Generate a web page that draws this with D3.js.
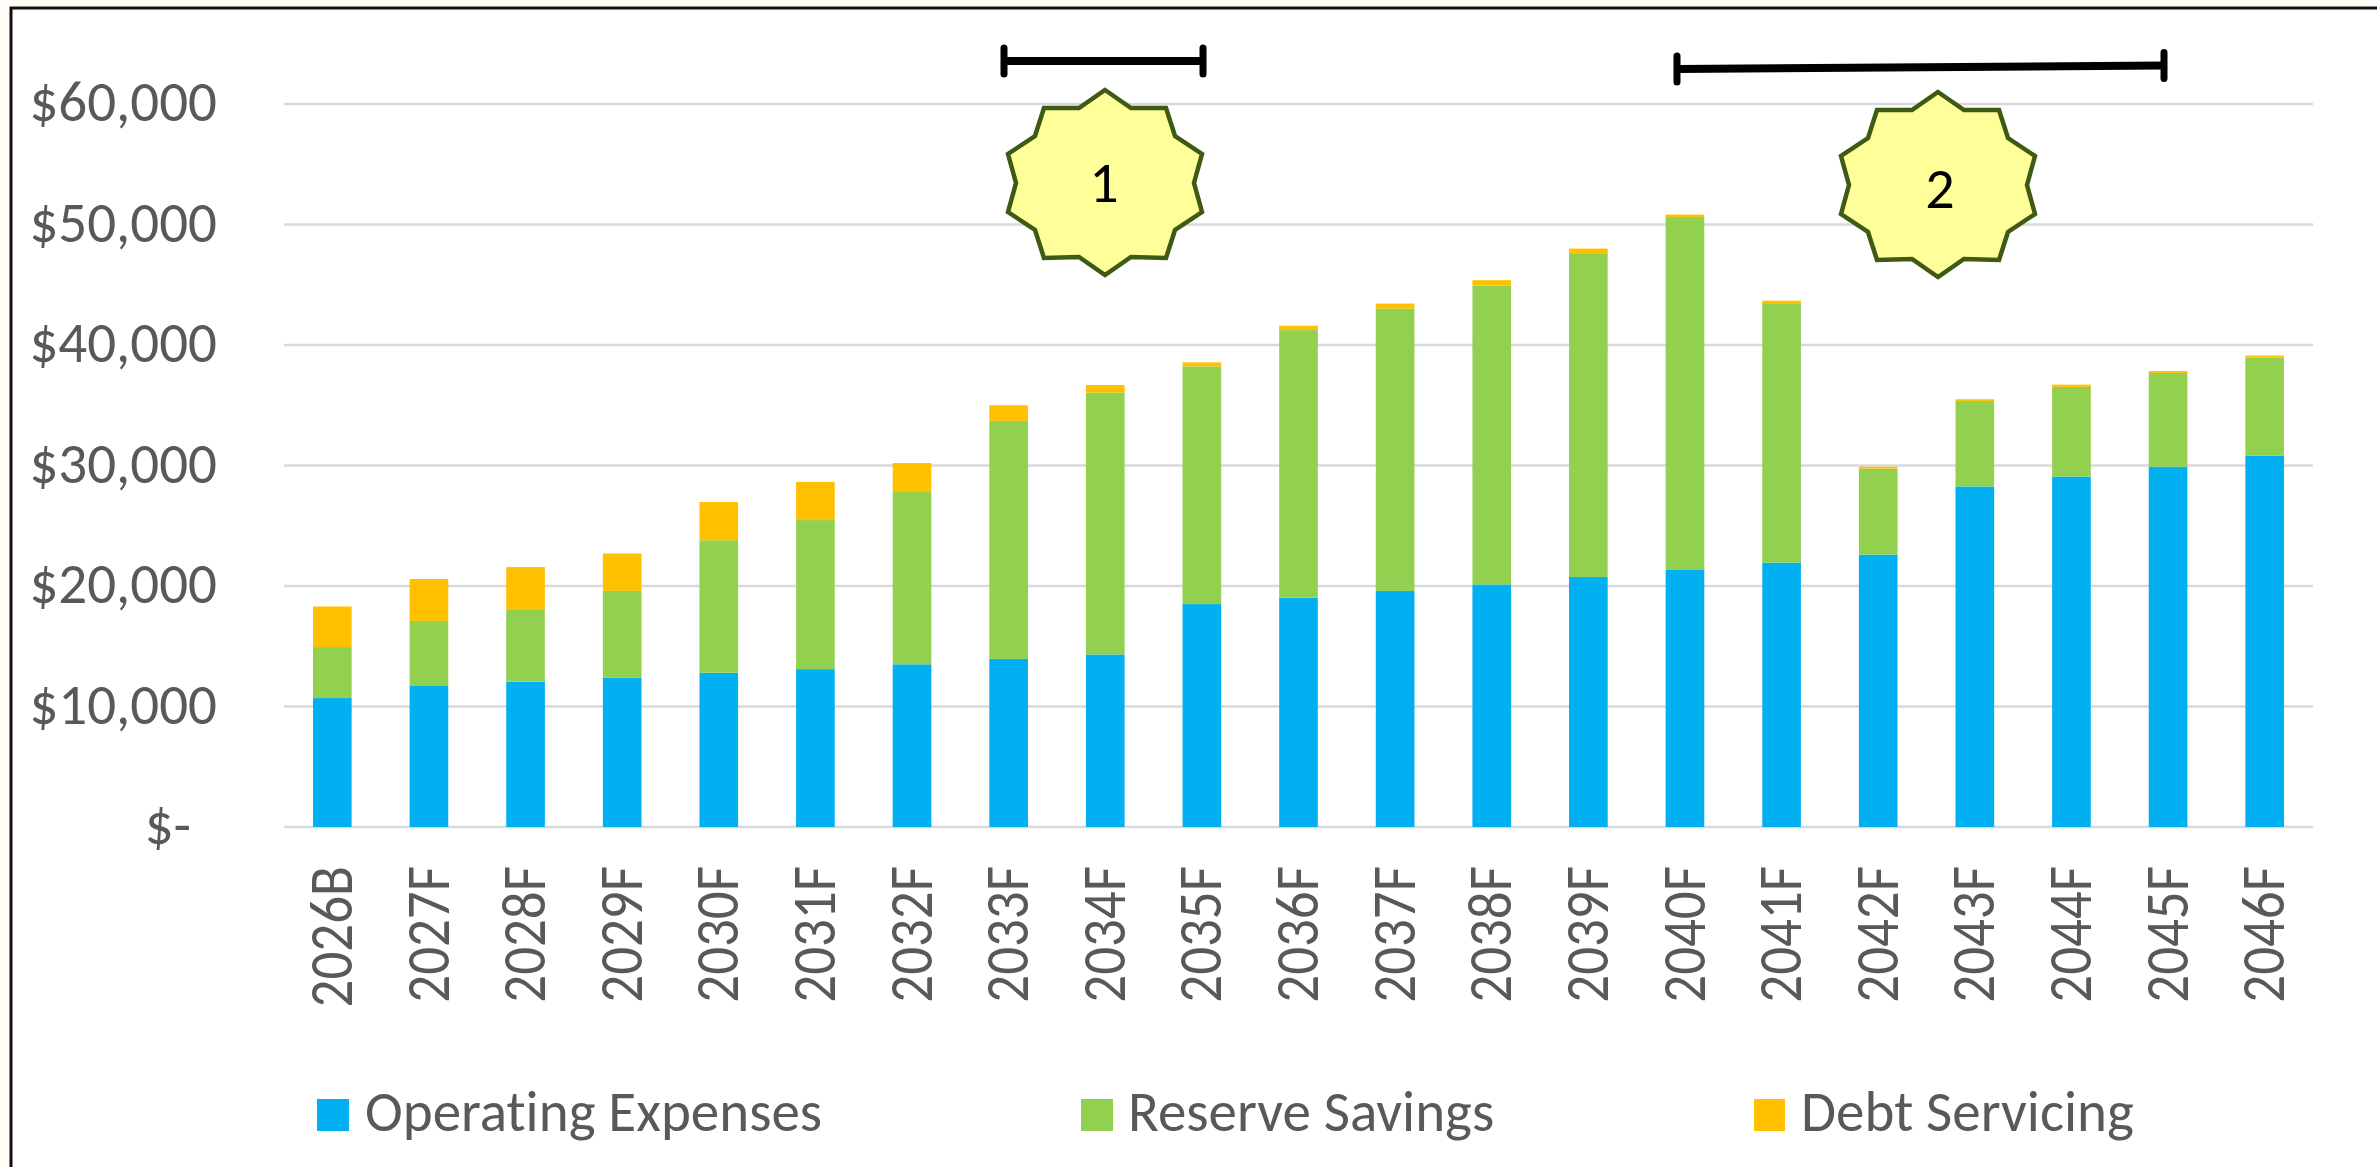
<!DOCTYPE html>
<html><head><meta charset="utf-8">
<style>html,body{margin:0;padding:0;background:#fffdf6;overflow:hidden}svg{display:block}text{font-variant-ligatures:none}</style>
<script src="https://cdnjs.cloudflare.com/ajax/libs/d3/7.9.0/d3.min.js"></script></head>
<body><svg id="c" width="2377" height="1167"></svg>
<script>
const categories=["2026B","2027F","2028F","2029F","2030F","2031F","2032F","2033F","2034F","2035F","2036F","2037F","2038F","2039F","2040F","2041F","2042F","2043F","2044F","2045F","2046F"];
const operating=[10700,11700,12060,12400,12800,13100,13500,13950,14320,18500,19030,19590,20130,20750,21330,21940,22600,28260,29080,29900,30820];
const reserve=[4230,5400,5950,7200,11000,12370,14300,19750,21730,19730,22210,23430,24800,26870,29290,21460,7140,7090,7440,7780,8140];
const debt=[3370,3480,3560,3100,3170,3170,2400,1300,630,330,360,420,450,380,200,280,160,150,190,160,160];
const seriesNames=["Operating Expenses","Reserve Savings","Debt Servicing"];
const colors=["#00b0f0","#92d050","#ffc000"];
const yTicks=[0,10000,20000,30000,40000,50000,60000];
const brackets=[{from:[1004,61],to:[1203,61]},{from:[1677,69],to:[2164,65.5]}];
const badges=[{cx:1105,cy:183,label:"1",ty:202,tx:1104},{cx:1938,cy:185,label:"2",ty:208,tx:1940}];
const font="Calibri,Carlito,'Open Sans','Noto Sans',sans-serif";
const svg=d3.select("#c");
svg.append("rect").attr("x",11).attr("y",8).attr("width",2420).attr("height",1220).attr("fill","#fff").attr("stroke","#111").attr("stroke-width",3);
const x=d3.scaleBand().domain(categories).range([284,2313]).paddingInner(0.6).paddingOuter(0.3);
const y=d3.scaleLinear().domain([0,60000]).range([827,104]);
const g=svg.append("g");
g.selectAll("line.g").data(yTicks).join("line").attr("x1",284).attr("x2",2313).attr("y1",d=>y(d)).attr("y2",d=>y(d)).attr("stroke","#d9d9d9").attr("stroke-width",2.5);
const rows=categories.map((c,i)=>({c,a:operating[i],b:reserve[i],d:debt[i]}));
const stack=d3.stack().keys(["a","b","d"])(rows);
stack.forEach((s,k)=>{g.selectAll(null).data(s).join("rect").attr("x",d=>x(d.data.c)).attr("width",x.bandwidth()).attr("y",d=>y(d[1])).attr("height",d=>y(d[0])-y(d[1])).attr("fill",colors[k]);});
const yFmt=d=>d===0?"$-":"$"+d3.format(",")(d);
g.selectAll("text.y").data(yTicks).join("text").attr("x",d=>d===0?191:217).attr("y",d=>y(d)+17).attr("text-anchor","end").attr("font-family",font).attr("font-size",57).attr("fill","#595959").text(yFmt);
g.selectAll("text.x").data(categories).join("text").attr("transform",d=>`translate(${x(d)+x.bandwidth()/2},866) rotate(-90) scale(1,1.12)`).attr("y",17.5).attr("text-anchor","end").attr("font-family",font).attr("font-size",55).attr("fill","#595959").text(d=>d);
const lx=[317,1081,1754];
const ltx=[365,1128,1801];
seriesNames.forEach((n,i)=>{svg.append("rect").attr("x",lx[i]).attr("y",1099).attr("width",i===2?31:32).attr("height",32).attr("fill",colors[i]);
 svg.append("text").attr("x",ltx[i]).attr("y",1131).attr("font-family",font).attr("font-size",57).attr("fill","#595959").text(n);});
brackets.forEach(b=>{svg.append("line").attr("x1",b.from[0]).attr("y1",b.from[1]).attr("x2",b.to[0]).attr("y2",b.to[1]).attr("stroke","#000").attr("stroke-width",8);
 [b.from,b.to].forEach(p=>svg.append("line").attr("x1",p[0]).attr("x2",p[0]).attr("y1",p[1]-13).attr("y2",p[1]+13).attr("stroke","#000").attr("stroke-width",7).attr("stroke-linecap","round"));});
const rightSide=[[0,-93],[26,-75],[61,-75],[70,-47],[97,-29],[89,0],[97,29],[70,47],[61,75],[26,74],[0,92]];
const outline=rightSide.concat(rightSide.slice(1,-1).reverse().map(p=>[-p[0],p[1]]));
badges.forEach(b=>{svg.append("polygon").attr("points",outline.map(p=>[b.cx+p[0],b.cy+p[1]].join(",")).join(" ")).attr("fill","#ffff99").attr("stroke","#3f5a14").attr("stroke-width",4.5).attr("stroke-linejoin","miter");
 svg.append("text").attr("x",b.tx).attr("y",b.ty).attr("text-anchor","middle").attr("font-family",font).attr("font-size",58).attr("fill","#000").text(b.label);});
</script></body></html>
